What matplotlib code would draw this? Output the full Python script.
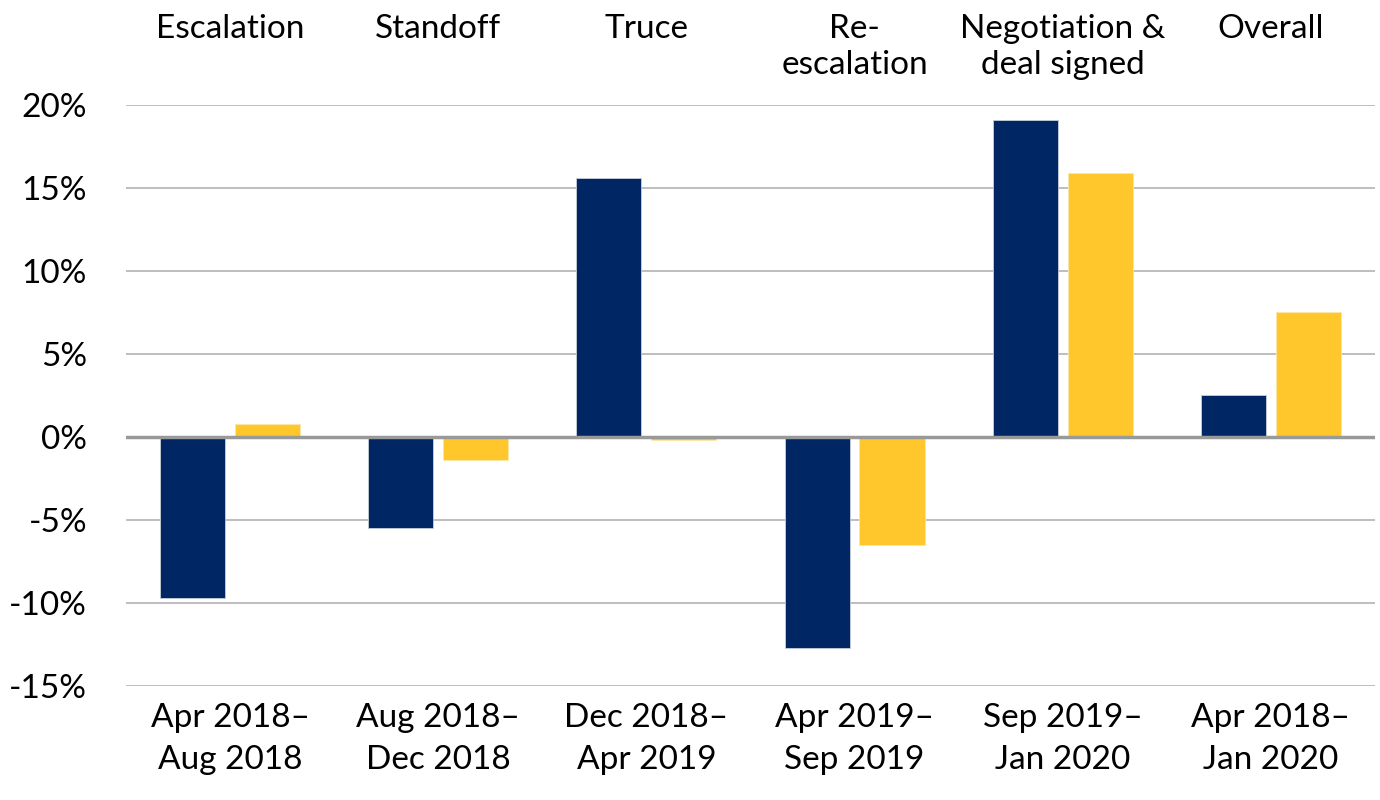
import matplotlib
matplotlib.use("Agg")
import matplotlib.pyplot as plt
import matplotlib.transforms as mtransforms
import numpy as np

plt.rcParams['font.family'] = ['Lato', 'DejaVu Sans']

phases = ["Escalation", "Standoff", "Truce", "Re-\nescalation", "Negotiation &\ndeal signed", "Overall"]
periods = ["Apr 2018\u2013\nAug 2018", "Aug 2018\u2013\nDec 2018", "Dec 2018\u2013\nApr 2019",
           "Apr 2019\u2013\nSep 2019", "Sep 2019\u2013\nJan 2020", "Apr 2018\u2013\nJan 2020"]
navy_vals = [-9.7, -5.5, 15.6, -12.7, 19.1, 2.5]
yellow_vals = [0.8, -1.4, -0.2, -6.5, 15.9, 7.5]

navy = "#002663"
yellow = "#FFC72C"

fig = plt.figure(figsize=(13.8, 8.0), dpi=100)
ax = fig.add_axes([0.0913, 0.1425, 0.905, 0.7265])

x = np.arange(len(phases))
w = 0.3125
ax.bar(x - 0.18, navy_vals, w, color=navy, edgecolor="#c8cedb", linewidth=0.6, zorder=3)
ax.bar(x + 0.18, yellow_vals, w, color=yellow, edgecolor="#fbe7a8", linewidth=0.6, zorder=3)

ax.set_xlim(-0.5, len(phases) - 0.5)
ax.set_ylim(-15, 20)
ax.set_yticks(np.arange(-15, 21, 5))
ax.set_yticklabels([f"{v}%" for v in range(-15, 21, 5)])
ax.yaxis.grid(True, color="#b3b3b3", linewidth=1.2, zorder=0)
ax.axhline(0, color="#999999", linewidth=2.5, zorder=4)

ax.set_xticks(x)
ax.set_xticklabels(periods, linespacing=1.5)
ax.tick_params(axis="x", length=0, pad=12, labelsize=24)
ax.tick_params(axis="y", length=0, pad=28, labelsize=24)

for s in ax.spines.values():
    s.set_visible(False)

trans = mtransforms.blended_transform_factory(ax.transData, fig.transFigure)
for i, p in enumerate(phases):
    ax.text(i, 0.983, p, transform=trans, ha="center", va="top", fontsize=24, linespacing=1.27)

fig.savefig("out.png", dpi=100)
